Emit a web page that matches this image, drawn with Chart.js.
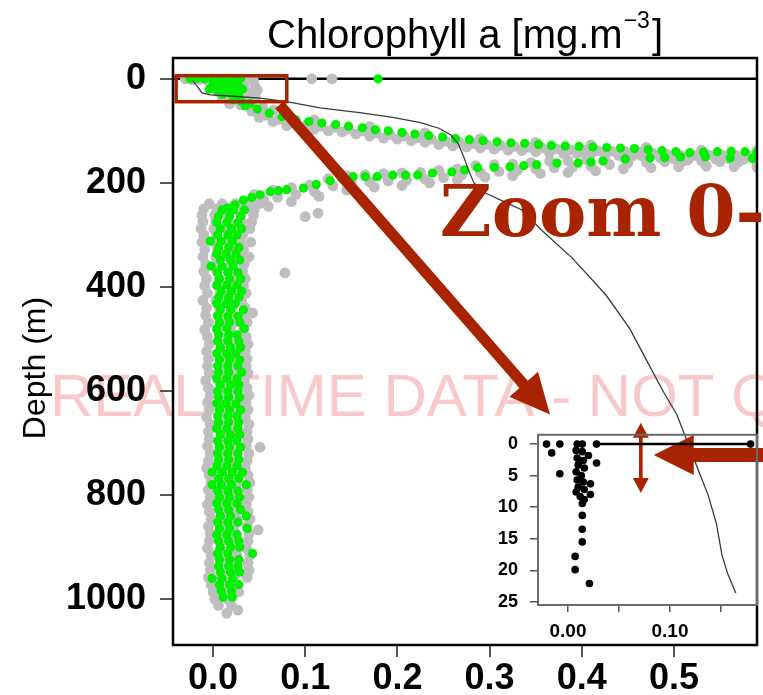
<!DOCTYPE html>
<html>
<head>
<meta charset="utf-8">
<script src="https://cdn.jsdelivr.net/npm/chart.js@4.4.1/dist/chart.umd.min.js"></script>
<style>
  html, body { margin: 0; padding: 0; background: #fff; }
  #wrap { position: relative; width: 763px; height: 695px; overflow: hidden; }
  #mainChart { position: absolute; left: 0; top: 0; }
  #insetChart { position: absolute; left: 470px; top: 412px; }
</style>
</head>
<body>
<div id="wrap">
  <canvas id="mainChart" width="763" height="695"></canvas>
  <canvas id="insetChart" width="293" height="245"></canvas>
</div>
<script>
// axes
const chlMin = -0.0434, chlMax = 0.590;
const depthMin = -40, depthMax = 1088;
const chlTicks = [0, 0.1, 0.2, 0.3, 0.4, 0.5];
const chlTickLabels = ["0.0", "0.1", "0.2", "0.3", "0.4", "0.5"];
const depthTicks = [0, 200, 400, 600, 800, 1000];
const depthTickLabels = ["0", "200", "400", "600", "800", "1000"];

const insetChlMin = -0.0294, insetChlMax = 0.1853;
const insetDepthMin = -1.47, insetDepthMax = 25.5;
const insetChlTicks = [0, 0.05, 0.10, 0.15];
const insetChlTickLabels = ["0.00", "", "0.10", ""];
const insetDepthTicks = [0, 5, 10, 15, 20, 25];
const insetDepthTickLabels = ["0", "5", "10", "15", "20", "25"];

const titleMain = "Chlorophyll a [mg.m";
const titleSup = "\u22123";
const yTitle = "Depth (m)";
const watermarkText = "REAL TIME DATA - NOT QC";
const zoomText = "Zoom 0-25 m";

// thin profile line [chl, depth]
const profileLine = [[-0.022, 4], [-0.016, 17], [-0.012, 27], [-0.003, 31], [0.018, 33], [0.051, 37],
  [0.080, 44], [0.116, 56], [0.159, 65], [0.195, 74], [0.225, 84], [0.245, 95], [0.258, 108],
  [0.266, 125], [0.272, 150], [0.277, 175], [0.283, 200], [0.296, 220], [0.318, 238], [0.335, 252],
  [0.357, 292], [0.390, 345], [0.426, 415], [0.452, 480], [0.470, 540], [0.488, 600], [0.503, 645],
  [0.515, 700], [0.527, 755], [0.537, 800], [0.546, 855], [0.552, 915], [0.558, 950], [0.567, 988]];

const surfaceDepth = 0;

// grey points (all profiles) [chl, depth]
const graySurface = [[-0.030, 0], [-0.022, 2], [-0.014, 1], [-0.006, 3], [0.004, 2], [0.014, 1], [0.024, 3],
  [0.034, 2], [0.044, 4], [0.107, 0], [0.129, 0],
  [-0.002, 12], [0.010, 14], [0.022, 12], [0.034, 14], [0.046, 16],
  [0.004, 24], [0.016, 26], [0.028, 24], [0.040, 28], [0.048, 22],
  [0.010, 36], [0.022, 38], [0.034, 40], [0.046, 36],
  [0.018, 48], [0.030, 50], [0.042, 52], [0.054, 55], [0.066, 60], [0.078, 66]];

const grayUpper = [[0.042, 62], [0.057, 70], [0.072, 78], [0.087, 85], [0.102, 88], [0.117, 91], [0.132, 93],
  [0.147, 96], [0.162, 100], [0.177, 104], [0.192, 107], [0.207, 110], [0.222, 113], [0.237, 116],
  [0.252, 120], [0.267, 122], [0.282, 124], [0.297, 126], [0.312, 128], [0.327, 130], [0.342, 131],
  [0.357, 133], [0.372, 134], [0.387, 136], [0.402, 137], [0.417, 138], [0.432, 139], [0.447, 140],
  [0.462, 141], [0.477, 143], [0.492, 145], [0.507, 147], [0.522, 147], [0.537, 146], [0.552, 146],
  [0.567, 147], [0.582, 148],
  [0.050, 74], [0.065, 82], [0.080, 90], [0.095, 95], [0.110, 97], [0.125, 100], [0.140, 102],
  [0.155, 106], [0.170, 110], [0.185, 114], [0.200, 116], [0.215, 119], [0.230, 122], [0.245, 126],
  [0.260, 129], [0.275, 131], [0.290, 133], [0.305, 135], [0.320, 137], [0.335, 138], [0.350, 140],
  [0.365, 142], [0.380, 143], [0.395, 144], [0.410, 145], [0.425, 146], [0.440, 147], [0.455, 148],
  [0.470, 150], [0.485, 152], [0.500, 154], [0.515, 156], [0.530, 155], [0.545, 154], [0.560, 154],
  [0.575, 155], [0.590, 156],
  [0.110, 79], [0.170, 92], [0.230, 104], [0.290, 115], [0.350, 122], [0.410, 127], [0.470, 132],
  [0.530, 137], [0.590, 138]];

const grayLower = [[0.045, 222], [0.065, 214], [0.085, 209], [0.105, 204], [0.125, 192], [0.145, 186],
  [0.165, 184], [0.185, 182], [0.205, 181], [0.225, 180], [0.245, 176], [0.265, 173], [0.285, 167],
  [0.305, 165], [0.325, 164], [0.345, 161], [0.365, 158], [0.385, 157], [0.405, 155], [0.425, 153],
  [0.445, 150], [0.465, 148], [0.485, 147], [0.505, 147], [0.525, 147], [0.545, 148], [0.565, 149],
  [0.585, 150],
  [0.040, 236], [0.055, 233], [0.070, 228], [0.090, 222], [0.110, 217], [0.130, 206], [0.150, 199],
  [0.170, 198], [0.190, 196], [0.210, 195], [0.230, 193], [0.250, 190], [0.270, 184], [0.290, 180],
  [0.310, 178], [0.330, 176], [0.350, 173], [0.370, 171], [0.390, 170], [0.410, 168], [0.430, 165],
  [0.450, 162], [0.470, 160], [0.490, 159], [0.510, 158], [0.530, 158], [0.550, 159], [0.570, 160],
  [0.590, 161],
  [0.035, 250], [0.060, 245], [0.085, 236], [0.115, 226], [0.145, 214], [0.175, 208], [0.205, 205],
  [0.235, 200], [0.265, 194], [0.295, 189], [0.325, 186], [0.355, 182], [0.385, 180], [0.415, 177],
  [0.445, 173], [0.475, 171], [0.505, 169], [0.535, 168], [0.565, 169], [0.590, 170],
  [0.100, 265], [0.114, 258], [0.078, 373], [0.043, 450], [0.051, 708], [0.049, 867],
  [0.015, 1027], [0.027, 1021]];

// grey column rows: depth, then chl values
const grayColumnRows = [
  [240, -0.004, 0.010, 0.024, 0.038, 0.050],
  [250, -0.010, 0.004, 0.018, 0.032, 0.045],
  [262, -0.012, 0.002, 0.016, 0.030, 0.044],
  [275, -0.011, 0.003, 0.017, 0.031, 0.042],
  [288, -0.013, 0.001, 0.015, 0.029, 0.040],
  [300, -0.010, 0.004, 0.018, 0.032],
  [314, -0.012, 0.002, 0.016, 0.030, 0.041],
  [328, -0.009, 0.005, 0.019, 0.033],
  [342, -0.011, 0.003, 0.017, 0.031, 0.039],
  [356, -0.008, 0.006, 0.020, 0.034],
  [370, -0.010, 0.004, 0.018, 0.032],
  [384, -0.007, 0.007, 0.021, 0.035],
  [398, -0.009, 0.005, 0.019, 0.033],
  [412, -0.006, 0.008, 0.022, 0.036],
  [426, -0.011, 0.003, 0.017, 0.031],
  [440, -0.007, 0.007, 0.021, 0.035],
  [454, -0.008, 0.006, 0.020, 0.034],
  [468, -0.005, 0.009, 0.023, 0.037],
  [482, -0.009, 0.005, 0.019, 0.033],
  [496, -0.006, 0.008, 0.022, 0.036],
  [510, -0.004, 0.010, 0.024, 0.038],
  [524, -0.007, 0.007, 0.021, 0.035],
  [538, -0.005, 0.009, 0.023, 0.037],
  [552, -0.006, 0.008, 0.022, 0.036],
  [566, -0.004, 0.010, 0.024, 0.038],
  [580, -0.008, 0.006, 0.020, 0.034],
  [594, -0.005, 0.009, 0.023, 0.037],
  [608, -0.003, 0.011, 0.025, 0.039],
  [622, -0.006, 0.008, 0.022, 0.036],
  [636, -0.004, 0.010, 0.024, 0.038],
  [650, -0.007, 0.007, 0.021, 0.035],
  [664, -0.003, 0.011, 0.025, 0.039],
  [678, -0.005, 0.009, 0.023, 0.037],
  [692, -0.004, 0.010, 0.024, 0.038],
  [706, -0.006, 0.008, 0.022, 0.036],
  [720, -0.003, 0.011, 0.025, 0.039],
  [734, -0.005, 0.009, 0.023, 0.037],
  [748, -0.007, 0.007, 0.021, 0.035],
  [762, -0.004, 0.010, 0.024, 0.038],
  [776, -0.002, 0.012, 0.026, 0.040],
  [790, -0.005, 0.009, 0.023, 0.037],
  [804, -0.003, 0.011, 0.025, 0.039],
  [818, -0.006, 0.008, 0.022, 0.036],
  [832, -0.004, 0.010, 0.024, 0.038],
  [846, -0.002, 0.012, 0.026, 0.040],
  [860, -0.005, 0.009, 0.023, 0.037],
  [874, -0.003, 0.011, 0.025, 0.039],
  [888, -0.004, 0.010, 0.024, 0.038],
  [902, -0.006, 0.008, 0.022, 0.036],
  [916, -0.002, 0.012, 0.026, 0.040],
  [930, -0.004, 0.010, 0.024, 0.038],
  [944, -0.003, 0.011, 0.025, 0.039],
  [958, -0.005, 0.009, 0.023, 0.037],
  [972, -0.002, 0.012, 0.026],
  [986, 0.000, 0.014, 0.028],
  [1000, 0.002, 0.016],
  [1012, 0.006, 0.020]];

// green points (this profile) [chl, depth]
const greenSurface = [[-0.025, 0], [-0.017, -1], [-0.009, 0], [-0.001, -1], [0.007, 0], [0.015, -1],
  [0.023, 0], [0.030, -1], [0.179, 0],
  [0.000, 10], [0.009, 12], [0.018, 9], [0.027, 12],
  [-0.004, 20], [0.005, 22], [0.014, 19], [0.023, 22], [0.032, 20],
  [0.010, 30], [0.019, 28], [0.028, 31],
  [0.022, 40], [0.031, 44], [0.040, 47]];

const greenUpper = [[0.035, 52], [0.048, 58], [0.061, 66], [0.075, 73], [0.090, 79], [0.104, 82],
  [0.118, 85], [0.133, 88], [0.147, 91], [0.162, 94], [0.176, 98], [0.190, 100], [0.205, 103],
  [0.219, 106], [0.234, 109], [0.249, 112], [0.263, 115], [0.278, 117], [0.293, 119], [0.308, 121],
  [0.323, 123], [0.338, 124], [0.353, 126], [0.367, 128], [0.382, 129], [0.397, 130], [0.412, 131],
  [0.427, 132], [0.442, 133], [0.457, 134], [0.472, 136], [0.487, 138], [0.502, 140], [0.517, 142],
  [0.532, 141], [0.547, 140], [0.562, 139], [0.577, 140], [0.590, 141]];

const greenLower = [[0.016, 248], [0.024, 242], [0.033, 233], [0.042, 228], [0.051, 223], [0.062, 217],
  [0.071, 215], [0.080, 213], [0.098, 210], [0.112, 203], [0.127, 196], [0.140, 192], [0.152, 188],
  [0.165, 188], [0.178, 188], [0.195, 185], [0.209, 185], [0.222, 185], [0.238, 181], [0.259, 179],
  [0.273, 175], [0.287, 171], [0.305, 170], [0.322, 169], [0.337, 167], [0.351, 165], [0.373, 162],
  [0.396, 162], [0.410, 160], [0.423, 158], [0.447, 154], [0.474, 152], [0.490, 151], [0.507, 150],
  [0.534, 150], [0.561, 152], [0.585, 153]];

const greenColumnRows = [
  [252, 0.010, 0.022, 0.034], [264, 0.006, 0.018, 0.030], [276, 0.004, 0.015, 0.027],
  [288, 0.008, 0.020, 0.031], [300, 0.005, 0.016, 0.026], [312, -0.003, 0.009, 0.021],
  [324, 0.006, 0.017, 0.028], [336, 0.004, 0.014, 0.025], [348, 0.008, 0.019, 0.029],
  [360, -0.002, 0.010, 0.022], [372, 0.005, 0.016, 0.027], [384, 0.007, 0.018, 0.030],
  [396, 0.004, 0.015, 0.026], [408, 0.009, 0.020, 0.031], [420, 0.006, 0.017, 0.028],
  [432, 0.004, 0.014, 0.024], [444, 0.008, 0.019, 0.033], [456, 0.005, 0.016, 0.027],
  [468, 0.007, 0.018, 0.029], [480, 0.004, 0.015, 0.034], [492, 0.006, 0.017, 0.026],
  [504, 0.005, 0.016, 0.028], [516, 0.008, 0.019, 0.030], [528, 0.004, 0.015, 0.025],
  [540, 0.007, 0.018, 0.029], [552, 0.005, 0.016, 0.027], [564, 0.006, 0.017, 0.031],
  [576, 0.004, 0.015, 0.026], [588, 0.008, 0.019, 0.028], [600, 0.005, 0.016, 0.027],
  [612, 0.006, 0.017, 0.029], [624, 0.004, 0.014, 0.025], [636, 0.007, 0.018, 0.030],
  [648, 0.005, 0.016, 0.026], [660, 0.006, 0.017, 0.028], [672, 0.004, 0.015, 0.027],
  [684, 0.008, 0.019, 0.029], [696, 0.005, 0.016, 0.026], [708, 0.007, 0.018, 0.030],
  [720, 0.005, 0.016, 0.027], [732, 0.006, 0.017, 0.028], [744, 0.004, 0.015, 0.026],
  [756, -0.001, 0.010, 0.021, 0.032], [768, 0.006, 0.017, 0.028], [780, -0.001, 0.009, 0.020, 0.036],
  [792, 0.005, 0.016, 0.027], [804, 0.007, 0.018, 0.029], [816, 0.004, 0.015, 0.026],
  [828, 0.006, 0.017, 0.030], [840, 0.008, 0.019, 0.036], [852, 0.005, 0.016, 0.027],
  [864, 0.007, 0.018, 0.037], [876, 0.004, 0.015, 0.026], [888, 0.006, 0.017, 0.028],
  [900, 0.008, 0.019, 0.029], [912, 0.005, 0.016, 0.043], [924, 0.007, 0.018, 0.028],
  [936, 0.006, 0.017, 0.027], [948, 0.008, 0.019, 0.029], [960, -0.001, 0.010, 0.021],
  [972, 0.007, 0.018, 0.028], [984, 0.009, 0.020], [996, 0.011, 0.021]];

// inset: 0-25 m zoom, black points [chl, depth]
const insetPoints = [[-0.021, 0], [-0.008, 0], [0.009, 0], [0.014, 0], [0.028, 0], [0.179, 0],
  [-0.016, 1.4], [0.008, 1.0], [0.014, 1.2], [0.020, 1.8], [0.009, 2.2], [0.015, 2.6], [0.028, 3.0],
  [0.010, 3.3], [0.016, 3.8], [0.008, 4.4], [-0.008, 4.7], [0.013, 5.0], [0.009, 5.7], [0.015, 6.0],
  [0.022, 6.3], [0.010, 6.8], [0.016, 7.2], [0.008, 7.6], [0.022, 8.0], [0.012, 8.3], [0.016, 8.8],
  [0.014, 9.4], [0.014, 11.3], [0.014, 13.5], [0.014, 15.5], [0.007, 17.8], [0.007, 19.9], [0.021, 22.1]];
const insetSurfaceLine = [[0.030, 0], [0.179, 0]];

// annotation anchors, in main axis units [chl, depth]
const zoomBox = [[-0.040, -6], [0.080, 44]];
const bigArrow = [[0.072, 50], [0.3655, 645]];
const depthArrow = [[0.464, 661], [0.464, 796]];
const sideArrow = [[0.630, 723], [0.478, 723]];
const zoomTextAt = [0.246, 302];

const family = "'Liberation Sans', Arial, Helvetica, sans-serif";
const noteColor = "#a82400";
Chart.defaults.font.family = family;

const toXY = arr => arr.map(p => ({ x: p[0], y: p[1] }));
const fromRows = rows => rows.flatMap(r => r.slice(1).map(c => [c, r[0]]));

const grayAll = graySurface.concat(grayUpper, grayLower, fromRows(grayColumnRows));
const greenAll = greenSurface.concat(greenUpper, greenLower, fromRows(greenColumnRows));

function drawArrow(ctx, x0, y0, x1, y1, shaftHalf, headLen, headHalf) {
    const len = Math.hypot(x1 - x0, y1 - y0);
    const ux = (x1 - x0) / len, uy = (y1 - y0) / len;
    const nx = -uy, ny = ux;
    const bx = x1 - ux * headLen, by = y1 - uy * headLen;
    ctx.beginPath();
    ctx.moveTo(x0 + nx * shaftHalf, y0 + ny * shaftHalf);
    ctx.lineTo(bx + nx * shaftHalf, by + ny * shaftHalf);
    ctx.lineTo(bx + nx * headHalf, by + ny * headHalf);
    ctx.lineTo(x1, y1);
    ctx.lineTo(bx - nx * headHalf, by - ny * headHalf);
    ctx.lineTo(bx - nx * shaftHalf, by - ny * shaftHalf);
    ctx.lineTo(x0 - nx * shaftHalf, y0 - ny * shaftHalf);
    ctx.closePath();
    ctx.fill();
}

const mainDecor = {
    id: "mainDecor",
    beforeDraw(chart) {
        const ctx = chart.ctx;
        ctx.save();
        ctx.fillStyle = "#f9c9c9";
        ctx.font = "60px " + family;
        ctx.textBaseline = "alphabetic";
        ctx.fillText(watermarkText, 50, 416);
        ctx.restore();
    },
    afterDatasetsDraw(chart) {
        const { ctx, chartArea } = chart;
        ctx.save();
        ctx.strokeStyle = "#000";
        ctx.lineWidth = 2.5;
        ctx.strokeRect(chartArea.left, chartArea.top, chartArea.right - chartArea.left, chartArea.bottom - chartArea.top);
        ctx.restore();
    },
    afterDraw(chart) {
        const { ctx, chartArea } = chart;
        const px = v => chart.scales.x.getPixelForValue(v);
        const py = v => chart.scales.y.getPixelForValue(v);
        ctx.save();

        // title with superscript
        ctx.fillStyle = "#000";
        ctx.textBaseline = "alphabetic";
        const mainFont = "40px " + family, supFont = "23px " + family;
        ctx.font = mainFont;
        const w1 = ctx.measureText(titleMain).width;
        const w3 = ctx.measureText("]").width;
        ctx.font = supFont;
        const w2 = ctx.measureText(titleSup).width;
        let tx = (chartArea.left + chartArea.right) / 2 - (w1 + w2 + w3 + 3) / 2;
        ctx.font = mainFont;
        ctx.fillText(titleMain, tx, 48);
        tx += w1 + 1;
        ctx.font = supFont;
        ctx.fillText(titleSup, tx, 28);
        tx += w2 + 2;
        ctx.font = mainFont;
        ctx.fillText("]", tx, 48);

        // y axis title
        ctx.save();
        ctx.translate(45, 368);
        ctx.rotate(-Math.PI / 2);
        ctx.font = "32px " + family;
        ctx.textAlign = "center";
        ctx.fillText(yTitle, 0, 0);
        ctx.restore();

        // annotations
        ctx.fillStyle = noteColor;
        ctx.strokeStyle = noteColor;
        ctx.lineWidth = 3.5;
        const bx0 = px(zoomBox[0][0]), by0 = py(zoomBox[0][1]);
        ctx.strokeRect(bx0, by0, px(zoomBox[1][0]) - bx0, py(zoomBox[1][1]) - by0);

        drawArrow(ctx, px(bigArrow[0][0]), py(bigArrow[0][1]), px(bigArrow[1][0]), py(bigArrow[1][1]), 5.5, 40, 19);
        drawArrow(ctx, px(sideArrow[0][0]), py(sideArrow[0][1]), px(sideArrow[1][0]), py(sideArrow[1][1]), 7, 40, 20);

        const dx = px(depthArrow[0][0]);
        const dTop = py(depthArrow[0][1]), dBot = py(depthArrow[1][1]);
        const mid = (dTop + dBot) / 2;
        drawArrow(ctx, dx, mid, dx, dTop, 1.8, 15, 8);
        drawArrow(ctx, dx, mid, dx, dBot, 1.8, 15, 8);

        ctx.font = "bold 71px 'DejaVu Serif', serif";
        ctx.fillText(zoomText, px(zoomTextAt[0]), py(zoomTextAt[1]));
        ctx.restore();
    }
};

const mainChart = new Chart(document.getElementById("mainChart"), {
    type: "scatter",
    data: {
        datasets: [
            {
                type: "line",
                label: "profile",
                data: toXY(profileLine),
                borderColor: "#3a3a3a",
                borderWidth: 1.3,
                pointRadius: 0,
                fill: false,
                tension: 0
            },
            {
                label: "this profile",
                data: toXY(greenAll),
                backgroundColor: "#00f000",
                borderWidth: 0,
                pointRadius: 4.6
            },
            {
                label: "all profiles",
                data: toXY(grayAll),
                backgroundColor: "#bebebe",
                borderWidth: 0,
                pointRadius: 5.4
            },
            {
                type: "line",
                label: "surface",
                data: [{ x: chlMin, y: surfaceDepth }, { x: chlMax, y: surfaceDepth }],
                borderColor: "#000",
                borderWidth: 2.5,
                pointRadius: 0,
                fill: false
            }
        ]
    },
    options: {
        responsive: false,
        animation: false,
        events: [],
        layout: { padding: { left: 0, top: 58, right: 6, bottom: 0 } },
        plugins: {
            legend: { display: false },
            tooltip: { enabled: false }
        },
        scales: {
            x: {
                type: "linear",
                min: chlMin,
                max: chlMax,
                afterFit: s => { s.height = 50; },
                afterBuildTicks: s => { s.ticks = chlTicks.map(v => ({ value: v })); },
                ticks: {
                    callback: (v, i) => chlTickLabels[i],
                    color: "#000",
                    font: { size: 36, weight: "bold" },
                    padding: 0,
                    maxRotation: 0,
                    autoSkip: false
                },
                grid: { drawOnChartArea: false, tickLength: 12, color: "#555", lineWidth: 2 },
                border: { display: false }
            },
            y: {
                type: "linear",
                reverse: true,
                min: depthMin,
                max: depthMax,
                afterFit: s => { s.width = 173; },
                afterBuildTicks: s => { s.ticks = depthTicks.map(v => ({ value: v })); },
                ticks: {
                    callback: (v, i) => depthTickLabels[i],
                    color: "#000",
                    font: { size: 36, weight: "bold" },
                    padding: 14,
                    autoSkip: false
                },
                grid: { drawOnChartArea: false, tickLength: 13, color: "#555", lineWidth: 2 },
                border: { display: false }
            }
        }
    },
    plugins: [mainDecor]
});

const insetFrame = {
    id: "insetFrame",
    beforeDatasetsDraw(chart) {
        const { ctx, chartArea } = chart;
        ctx.save();
        ctx.strokeStyle = "#6a6a6a";
        ctx.lineWidth = 2;
        ctx.strokeRect(chartArea.left, chartArea.top, chartArea.right - chartArea.left, chartArea.bottom - chartArea.top);
        ctx.restore();
    }
};

const insetChart = new Chart(document.getElementById("insetChart"), {
    type: "scatter",
    data: {
        datasets: [
            {
                label: "0-25 m",
                data: toXY(insetPoints),
                backgroundColor: "#000",
                borderWidth: 0,
                pointRadius: 3.8
            },
            {
                type: "line",
                label: "surface",
                data: toXY(insetSurfaceLine),
                borderColor: "#000",
                borderWidth: 2.5,
                pointRadius: 0,
                fill: false
            }
        ]
    },
    options: {
        responsive: false,
        animation: false,
        events: [],
        layout: { padding: { left: 0, top: 10, right: 6, bottom: 0 } },
        plugins: {
            legend: { display: false },
            tooltip: { enabled: false }
        },
        scales: {
            x: {
                type: "linear",
                min: insetChlMin,
                max: insetChlMax,
                afterFit: s => { s.height = 52; },
                afterBuildTicks: s => { s.ticks = insetChlTicks.map(v => ({ value: v })); },
                ticks: {
                    callback: (v, i) => insetChlTickLabels[i],
                    color: "#000",
                    font: { size: 19, weight: "bold" },
                    padding: 8,
                    maxRotation: 0,
                    autoSkip: false
                },
                grid: { drawOnChartArea: false, tickLength: 7, color: "#555", lineWidth: 1.5 },
                border: { display: false }
            },
            y: {
                type: "linear",
                reverse: true,
                min: insetDepthMin,
                max: insetDepthMax,
                afterFit: s => { s.width = 68; },
                afterBuildTicks: s => { s.ticks = insetDepthTicks.map(v => ({ value: v })); },
                ticks: {
                    callback: (v, i) => insetDepthTickLabels[i],
                    color: "#000",
                    font: { size: 18, weight: "bold" },
                    padding: 12,
                    autoSkip: false
                },
                grid: { drawOnChartArea: false, tickLength: 8, color: "#555", lineWidth: 1.5 },
                border: { display: false }
            }
        }
    },
    plugins: [insetFrame]
});
</script>
</body>
</html>
